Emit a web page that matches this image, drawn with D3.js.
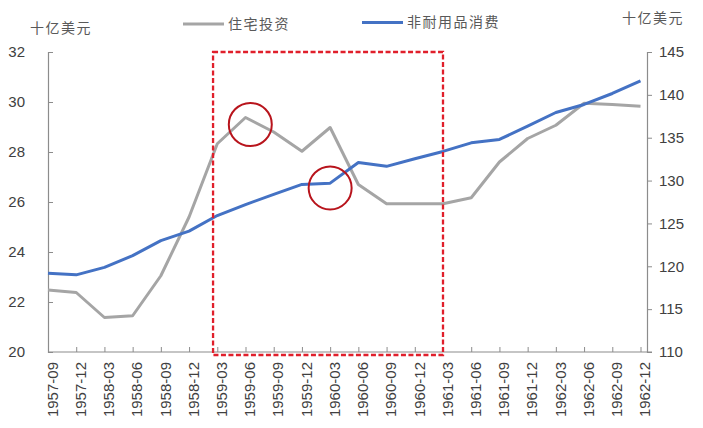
<!DOCTYPE html>
<html>
<head>
<meta charset="utf-8">
<script src="https://cdn.jsdelivr.net/npm/d3@7"></script>
<style>
  html, body { margin: 0; padding: 0; background: #ffffff; }
  svg { display: block; }
  .num { font-family: "Liberation Sans", Arial, sans-serif; fill: #404040; }
  .cjk { font-family: "Noto Sans CJK SC", sans-serif; fill: #595959; }
</style>
</head>
<body>
<svg id="chart" width="703" height="428"></svg>
<script>
// Quarterly periods
const periods = [
  "1957-09", "1957-12", "1958-03", "1958-06", "1958-09", "1958-12",
  "1959-03", "1959-06", "1959-09", "1959-12", "1960-03", "1960-06",
  "1960-09", "1960-12", "1961-03", "1961-06", "1961-09", "1961-12",
  "1962-03", "1962-06", "1962-09", "1962-12"
];

// Residential investment, billions USD (left axis)
const residentialInvestment = [
  22.48, 22.38, 21.38, 21.45, 23.05, 25.4,
  28.33, 29.38, 28.8, 28.03, 28.98, 26.7,
  25.93, 25.93, 25.93, 26.17, 27.6, 28.54,
  29.07, 29.95, 29.9, 29.83
];

// Non-durable goods consumption, billions USD (right axis)
const nondurableConsumption = [
  119.2, 119.0, 119.87, 121.24, 123.0, 124.1,
  125.92, 127.2, 128.4, 129.55, 129.7, 132.1,
  131.66, 132.55, 133.4, 134.4, 134.8, 136.34,
  137.94, 138.88, 140.16, 141.64
];

// Axis ticks
const leftTicks = [20, 22, 24, 26, 28, 30, 32];
const rightTicks = [110, 115, 120, 125, 130, 135, 140, 145];

// Series labels and unit labels
const seriesNames = ["住宅投资", "非耐用品消费"];
const unitLabel = "十亿美元";

// Highlighted period (box) and the two circled points
const highlightRange = ["1959-03", "1961-03"];
const circled = [
  { period: "1959-06", shift: 0.17, axis: "left", value: 29.1 },
  { period: "1960-03", shift: 0.0, axis: "right", value: 129.14 }
];

const svg = d3.select("#chart");

const plot = { left: 48, right: 647, top: 52, bottom: 352 };

const x = d3.scalePoint().domain(periods).range([plot.left, 640.5]);
const step = x.step();
const yL = d3.scaleLinear().domain([20, 32]).range([plot.bottom, plot.top]);
const yR = d3.scaleLinear().domain([110, 145]).range([plot.bottom, plot.top]);

const axisColor = "#8c8c8c";

// Left axis (ticks point inward)
const gL = svg.append("g").attr("transform", `translate(${plot.left},0)`)
  .call(d3.axisLeft(yL).tickValues(leftTicks).tickSize(-5).tickPadding(23).tickFormat(d3.format("d")));
// Right axis (ticks point outward)
const gR = svg.append("g").attr("transform", `translate(${plot.right},0)`)
  .call(d3.axisRight(yR).tickValues(rightTicks).tickSize(5).tickPadding(7).tickFormat(d3.format("d")));
// Category axis (ticks point upward into the plot)
const gX = svg.append("g").attr("transform", `translate(0,${plot.bottom})`)
  .call(d3.axisBottom(x).tickSize(-5).tickSizeOuter(0).tickFormat(d => d));

[gL, gR, gX].forEach(g => {
  g.select(".domain").attr("stroke", axisColor).attr("stroke-width", 1.2);
  g.selectAll(".tick line").attr("stroke", axisColor).attr("stroke-width", 1);
  g.selectAll("text").attr("class", "num").attr("font-size", 15).attr("fill", "#404040");
});
gX.select(".domain").attr("d", `M${plot.left},0H${plot.right + 5}`);

gX.selectAll(".tick text")
  .attr("transform", "rotate(-90)")
  .attr("text-anchor", "end")
  .attr("x", -10)
  .attr("y", 4)
  .attr("dy", "0.35em");

// Series lines
const lineL = d3.line().x((d, i) => x(periods[i])).y(d => yL(d));
const lineR = d3.line().x((d, i) => x(periods[i])).y(d => yR(d));

svg.append("path")
  .datum(residentialInvestment)
  .attr("d", lineL)
  .attr("fill", "none")
  .attr("stroke", "#a5a5a5")
  .attr("stroke-width", 3)
  .attr("stroke-linejoin", "round");

svg.append("path")
  .datum(nondurableConsumption)
  .attr("d", lineR)
  .attr("fill", "none")
  .attr("stroke", "#4472c4")
  .attr("stroke-width", 3)
  .attr("stroke-linejoin", "round");

// Highlight box around 1959-03 … 1961-03
const boxLeft = x(highlightRange[0]) - step * 0.15;
const boxRight = x(highlightRange[1]);
svg.append("rect")
  .attr("x", boxLeft)
  .attr("y", yL(32))
  .attr("width", boxRight - boxLeft)
  .attr("height", yL(20) + 3 - yL(32))
  .attr("fill", "none")
  .attr("stroke", "#e01f2b")
  .attr("stroke-width", 2.3)
  .attr("stroke-dasharray", "5,2.5");

// Circled points
svg.selectAll("circle.mark")
  .data(circled)
  .join("circle")
  .attr("class", "mark")
  .attr("cx", d => x(d.period) + d.shift * step)
  .attr("cy", d => (d.axis === "left" ? yL : yR)(d.value))
  .attr("r", 21.5)
  .attr("fill", "none")
  .attr("stroke", "#b8141c")
  .attr("stroke-width", 2);

// Unit labels
svg.append("text").attr("class", "cjk")
  .attr("x", 30).attr("y", 28).attr("dy", "0.35em")
  .attr("font-size", 14).attr("letter-spacing", 1.5)
  .text(unitLabel);
svg.append("text").attr("class", "cjk")
  .attr("x", 622).attr("y", 18).attr("dy", "0.35em")
  .attr("font-size", 14).attr("letter-spacing", 1.5)
  .text(unitLabel);

// Legend
const legend = [
  { name: seriesNames[0], color: "#a5a5a5", x0: 183, x1: 224, y: 24 },
  { name: seriesNames[1], color: "#4472c4", x0: 362, x1: 403, y: 22.5 }
];
legend.forEach(l => {
  svg.append("line")
    .attr("x1", l.x0).attr("x2", l.x1)
    .attr("y1", l.y).attr("y2", l.y)
    .attr("stroke", l.color).attr("stroke-width", 3);
  svg.append("text").attr("class", "cjk")
    .attr("x", l.x1 + 4).attr("y", l.y).attr("dy", "0.35em")
    .attr("font-size", 14).attr("letter-spacing", 1.5)
    .text(l.name);
});
</script>
</body>
</html>
